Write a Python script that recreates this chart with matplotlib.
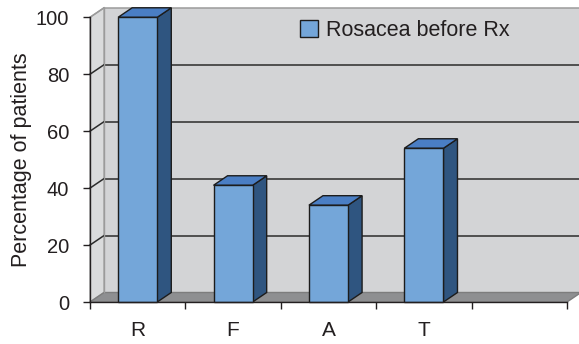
import matplotlib.pyplot as plt
from matplotlib.patches import Polygon, Patch

# percentage of patients per sign, before treatment
categories = ['R', 'F', 'A', 'T']
before_rx = [100, 41, 34, 54]
n_slots = 5  # last slot on the category axis is left empty
yticks = [0, 20, 40, 60, 80, 100]

plt.rcParams['font.family'] = ['Liberation Sans', 'DejaVu Sans']
text_col = '#231f20'

fig = plt.figure(figsize=(5.79, 3.44), dpi=100)
ax = fig.add_axes([90 / 579, 42 / 344, 477 / 579, 284.7 / 344])
ax.set_xlim(0, n_slots)
ax.set_ylim(0, 100)
ax.patch.set_visible(False)

# depth of the fake 3d box, in data units
DX, DY = 0.147, 3.34
top = yticks[-1]


def poly(pts, fc, ec, lw=1.0, z=1):
    p = Polygon(pts, closed=True, facecolor=fc, edgecolor=ec, lw=lw,
                clip_on=False, zorder=z, joinstyle='miter')
    ax.add_patch(p)
    return p


# walls and floor
poly([(DX, DY), (n_slots + DX + 1, DY), (n_slots + DX + 1, top + DY), (DX, top + DY)],
     '#d3d4d6', 'none', z=0.1)
poly([(0, 0), (DX, DY), (DX, top + DY), (0, top)], '#dadbdc', '#a3a3a3', z=0.2)
poly([(0, 0), (n_slots, 0), (n_slots + DX, DY), (DX, DY)], '#8e8f91', '#7d7d7d', z=0.3)

# gridlines on the back wall and side wall
for v in yticks[1:]:
    col = '#9b9b9b' if v == top else '#2b2b2b'
    ax.plot([DX, n_slots + DX + 1], [v + DY, v + DY], color=col, lw=1.1,
            clip_on=False, zorder=0.4)
    ax.plot([0, DX], [v, v + DY], color=col, lw=1.1, clip_on=False, zorder=0.4)
ax.plot([DX, DX], [DY, top + DY], color='#9b9b9b', lw=1.0, clip_on=False, zorder=0.4)

# columns
w = 0.41
edge = '#1c1c1c'
for i, v in enumerate(before_rx):
    x0 = i + 0.5 - w / 2
    x1 = x0 + w
    poly([(x1, 0), (x1 + DX, DY), (x1 + DX, v + DY), (x1, v)], '#2f5580', edge, z=2)
    poly([(x0, v), (x1, v), (x1 + DX, v + DY), (x0 + DX, v + DY)], '#4a7ec4', edge, z=2)
    poly([(x0, 0), (x1, 0), (x1, v), (x0, v)], '#74a6d9', edge, z=2.1)

# axes, ticks and labels
for s in ['top', 'right']:
    ax.spines[s].set_visible(False)
for s in ['left', 'bottom']:
    ax.spines[s].set_color(text_col)
    ax.spines[s].set_linewidth(1.0)
    ax.spines[s].set_zorder(3)

ax.set_yticks(yticks)
ax.tick_params(axis='y', direction='out', length=5, width=1, color=text_col,
               labelsize=14.5, labelcolor=text_col, pad=10)
ax.set_xticks([i + 0.5 for i in range(len(categories))])
ax.set_xticklabels(categories)
ax.set_xticks(range(n_slots + 1), minor=True)
ax.tick_params(axis='x', which='major', length=0, labelsize=15,
               labelcolor=text_col, pad=14)
ax.tick_params(axis='x', which='minor', direction='out', length=5, width=1,
               color=text_col)
ax.set_ylabel('Percentage of patients', fontsize=15.5, color=text_col, labelpad=3)

leg = ax.legend(handles=[Patch(facecolor='#74a6d9', edgecolor=edge, lw=1,
                               label='Rosacea before Rx')],
                loc='center left', bbox_to_anchor=(210 / 477, 1 - 13.5 / 284.7),
                frameon=False, fontsize=15.5, handlelength=0.84, handleheight=0.84,
                handletextpad=0.37, borderaxespad=0, borderpad=0)
for t in leg.get_texts():
    t.set_color(text_col)

fig.savefig('out.png', dpi=100)
